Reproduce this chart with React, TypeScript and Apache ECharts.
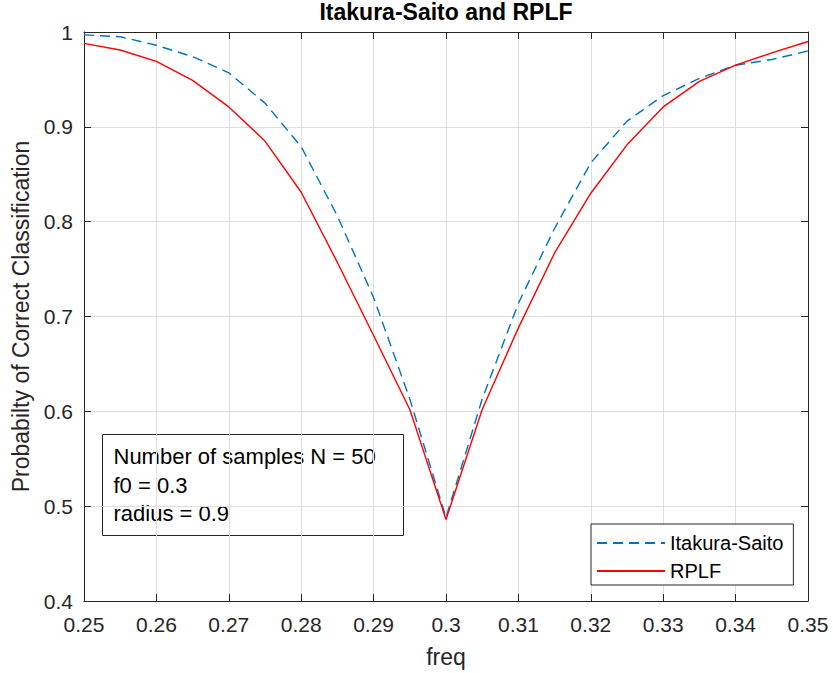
import React, { useEffect, useRef } from "react";
import * as echarts from "echarts";

// Frequency grid (0.25 : 0.005 : 0.35)
const freq = [
  0.25, 0.255, 0.26, 0.265, 0.27, 0.275, 0.28, 0.285, 0.29, 0.295, 0.3,
  0.305, 0.31, 0.315, 0.32, 0.325, 0.33, 0.335, 0.34, 0.345, 0.35,
];

// Probability of correct classification per distance measure
const itakuraSaito = [
  0.997, 0.995, 0.986, 0.974, 0.957, 0.925, 0.879, 0.806, 0.72, 0.613, 0.488,
  0.613, 0.714, 0.793, 0.862, 0.906, 0.933, 0.951, 0.965, 0.971, 0.98,
];
const rplf = [
  0.988, 0.981, 0.969, 0.949, 0.921, 0.885, 0.831, 0.757, 0.68, 0.602, 0.486,
  0.602, 0.688, 0.767, 0.83, 0.881, 0.921, 0.948, 0.965, 0.978, 0.99,
];

const seriesNames = ["Itakura-Saito", "RPLF"];
const infoLines = ["Number of samples N = 50", "f0 = 0.3", "radius = 0.9"];

const FONT = "'Liberation Sans', Arial, Helvetica, sans-serif";
const INK = "#262626";
const GRID = "#dedede";

export default function App() {
  const ref = useRef<HTMLDivElement>(null);

  useEffect(() => {
    document.body.style.margin = "0";
    const chart = echarts.init(ref.current!, null, { renderer: "svg" });

    const gridLeft = 84;
    const gridTop = 32;
    const gridWidth = 724;
    const gridHeight = 570;

    const pairs = (ys: number[]) => freq.map((f, i) => [f, ys[i]]);

    const baseX = {
      type: "value",
      min: 0.25,
      max: 0.35,
      interval: 0.01,
      axisLine: { show: true, onZero: false, lineStyle: { color: INK, width: 1 } },
      axisTick: { show: true, inside: true, length: 7, lineStyle: { color: INK } },
    };
    const baseY = {
      type: "value",
      min: 0.4,
      max: 1,
      interval: 0.1,
      axisLine: { show: true, onZero: false, lineStyle: { color: INK, width: 1 } },
      axisTick: { show: true, inside: true, length: 7, lineStyle: { color: INK } },
    };

    chart.setOption({
      animation: false,
      backgroundColor: "#ffffff",
      textStyle: { fontFamily: FONT },
      title: {
        text: "Itakura-Saito and RPLF",
        left: gridLeft + gridWidth / 2,
        textAlign: "center",
        top: 0,
        padding: 0,
        textStyle: { fontFamily: FONT, fontSize: 23, fontWeight: "bold", color: "#000" },
      },
      grid: { left: gridLeft, top: gridTop, width: gridWidth, height: gridHeight },
      xAxis: [
        {
          ...baseX,
          position: "bottom",
          name: "freq",
          nameLocation: "middle",
          nameGap: 44,
          nameTextStyle: { fontFamily: FONT, fontSize: 23, color: INK },
          axisLabel: {
            fontFamily: FONT,
            fontSize: 21,
            color: INK,
            margin: 13,
            formatter: (v: number) => String(+v.toFixed(3)),
          },
          splitLine: { show: true, lineStyle: { color: GRID, width: 1 } },
        },
        {
          ...baseX,
          position: "top",
          axisLabel: { show: false },
          splitLine: { show: false },
        },
      ],
      yAxis: [
        {
          ...baseY,
          position: "left",
          name: "Probabilty of Correct Classification",
          nameLocation: "middle",
          nameGap: 52,
          nameTextStyle: { fontFamily: FONT, fontSize: 23, color: INK },
          axisLabel: {
            fontFamily: FONT,
            fontSize: 21,
            color: INK,
            margin: 11,
            formatter: (v: number) => String(+v.toFixed(3)),
          },
          splitLine: { show: true, lineStyle: { color: GRID, width: 1 } },
        },
        {
          ...baseY,
          position: "right",
          axisLabel: { show: false },
          splitLine: { show: false },
        },
      ],
      legend: {
        left: 591,
        top: 524,
        orient: "vertical",
        padding: [9, 10, 4, 5],
        itemWidth: 68,
        itemHeight: 14,
        itemGap: 8,
        borderColor: INK,
        borderWidth: 1,
        backgroundColor: "#ffffff",
        data: seriesNames,
        // keep only the line sample, no marker
        itemStyle: { opacity: 0, borderWidth: 0 },
        textStyle: { fontFamily: FONT, fontSize: 20, color: "#000", padding: [0, 0, 0, 0] },
      },
      series: [
        {
          name: seriesNames[0],
          type: "line",
          data: pairs(itakuraSaito),
          symbol: "none",
          showSymbol: false,
          lineStyle: { color: "#0072BD", width: 1.4, type: [10, 6] },
          itemStyle: { color: "#0072BD" },
          z: 3,
        },
        {
          name: seriesNames[1],
          type: "line",
          data: pairs(rplf),
          symbol: "none",
          showSymbol: false,
          lineStyle: { color: "#FF0000", width: 1.4 },
          itemStyle: { color: "#FF0000" },
          z: 4,
        },
      ],
      graphic: [
        {
          type: "group",
          left: 100,
          top: 432,
          z: 10,
          children: [
            {
              type: "rect",
              shape: { x: 0, y: 0, width: 301, height: 101 },
              style: { fill: "none", stroke: INK, lineWidth: 1 },
            },
            ...infoLines.map((line, i) => ({
              type: "text",
              x: 11,
              y: 22 + i * 28.5,
              style: {
                text: line,
                fontFamily: FONT,
                fontSize: 22,
                fill: "#000",
                verticalAlign: "middle",
              },
            })),
          ],
        },
      ],
    });

    return () => chart.dispose();
  }, []);

  return <div ref={ref} style={{ width: 833, height: 673 }} />;
}
